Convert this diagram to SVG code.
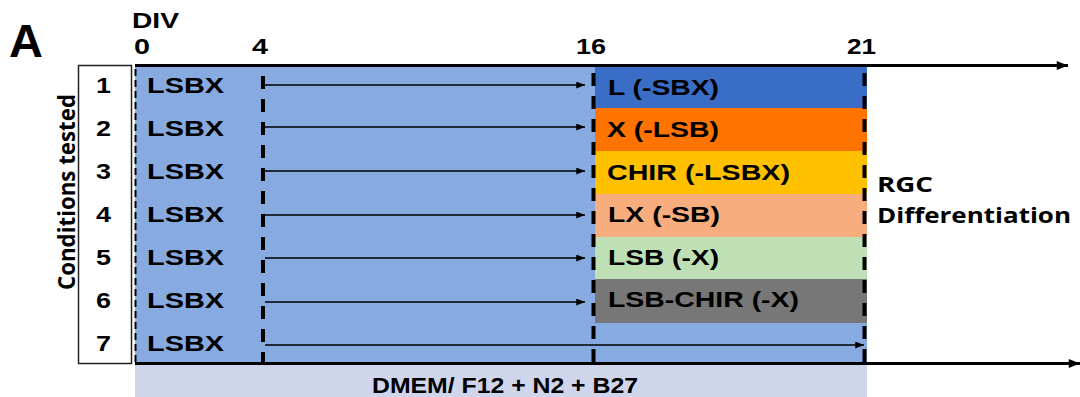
<svg xmlns="http://www.w3.org/2000/svg" width="1080" height="397" viewBox="0 0 1080 397">
<style>
.t{font-family:"Liberation Sans",Arial,sans-serif;font-weight:bold;fill:#000}
.o{font-family:"Open Sans","Liberation Sans",sans-serif;font-weight:bold;fill:#000}
.lab{font-size:22px}
.num{font-size:22px;text-anchor:middle}
.dash{stroke:#000;stroke-width:4;stroke-dasharray:13 10;fill:none}
.arr{stroke:#000;stroke-width:1.5;fill:none;marker-end:url(#ah)}
.axis{stroke:#000;stroke-width:3;fill:none;marker-end:url(#ax)}
</style>
<defs>
<marker id="ah" viewBox="0 0 10 8" refX="10" refY="4" markerWidth="10" markerHeight="7" markerUnits="userSpaceOnUse" orient="auto"><path d="M0,0 L10,4 L0,8 Z" fill="#000"/></marker>
<marker id="ax" viewBox="0 0 10 8" refX="10" refY="4" markerWidth="12" markerHeight="9" markerUnits="userSpaceOnUse" orient="auto"><path d="M0,0 L10,4 L0,8 Z" fill="#000"/></marker>
</defs>
<rect width="1080" height="397" fill="#fff"/>
<g id="background">
<rect x="135" y="66" width="732" height="298" fill="#87AAE0"/>
<rect x="135" y="365" width="732" height="32" fill="#CFD5EA"/>
</g>
<g id="phases">
<rect x="595" y="67" width="272" height="41" fill="#3A6DC6"/>
<rect x="595" y="108" width="272" height="43" fill="#FF7300"/>
<rect x="595" y="151" width="272" height="43" fill="#FFC000"/>
<rect x="595" y="194" width="272" height="43" fill="#F8AD7E"/>
<rect x="595" y="237" width="272" height="42" fill="#BFE0B4"/>
<rect x="595" y="279" width="272" height="44" fill="#777777"/>
<text class="t lab" x="608" y="95" textLength="111" lengthAdjust="spacingAndGlyphs">L (-SBX)</text>
<text class="t lab" x="607" y="137" textLength="112" lengthAdjust="spacingAndGlyphs">X (-LSB)</text>
<text class="t lab" x="607" y="180" textLength="183" lengthAdjust="spacingAndGlyphs">CHIR (-LSBX)</text>
<text class="t lab" x="608" y="222" textLength="112" lengthAdjust="spacingAndGlyphs">LX (-SB)</text>
<text class="t lab" x="608" y="265" textLength="111" lengthAdjust="spacingAndGlyphs">LSB (-X)</text>
<text class="t lab" x="608" y="307" textLength="191" lengthAdjust="spacingAndGlyphs">LSB-CHIR (-X)</text>
</g>
<g id="conditions">
<rect x="78.5" y="65.5" width="53" height="298" fill="#fff" stroke="#222" stroke-width="1.5"/>
<text class="t num" x="103.5" y="93" textLength="15" lengthAdjust="spacingAndGlyphs">1</text>
<text class="t num" x="103.5" y="136" textLength="15" lengthAdjust="spacingAndGlyphs">2</text>
<text class="t num" x="103.5" y="179" textLength="15" lengthAdjust="spacingAndGlyphs">3</text>
<text class="t num" x="103.5" y="222" textLength="15" lengthAdjust="spacingAndGlyphs">4</text>
<text class="t num" x="103.5" y="265" textLength="15" lengthAdjust="spacingAndGlyphs">5</text>
<text class="t num" x="103.5" y="308" textLength="15" lengthAdjust="spacingAndGlyphs">6</text>
<text class="t num" x="103.5" y="351" textLength="15" lengthAdjust="spacingAndGlyphs">7</text>
<text class="o" font-size="23" text-anchor="middle" textLength="196" lengthAdjust="spacingAndGlyphs" transform="translate(75,192) rotate(-90)">Conditions tested</text>
</g>
<g id="lsbx">
<text class="t lab" x="147" y="93" textLength="77" lengthAdjust="spacingAndGlyphs">LSBX</text>
<text class="t lab" x="147" y="136" textLength="77" lengthAdjust="spacingAndGlyphs">LSBX</text>
<text class="t lab" x="147" y="179" textLength="77" lengthAdjust="spacingAndGlyphs">LSBX</text>
<text class="t lab" x="147" y="222" textLength="77" lengthAdjust="spacingAndGlyphs">LSBX</text>
<text class="t lab" x="147" y="265" textLength="77" lengthAdjust="spacingAndGlyphs">LSBX</text>
<text class="t lab" x="147" y="308" textLength="77" lengthAdjust="spacingAndGlyphs">LSBX</text>
<text class="t lab" x="147" y="351" textLength="77" lengthAdjust="spacingAndGlyphs">LSBX</text>
</g>
<g id="connectors">
<line class="axis" x1="135" y1="65.5" x2="1068" y2="65.5"/>
<line class="axis" x1="135" y1="363.5" x2="1080" y2="363.5"/>
<line x1="135.5" y1="69" x2="135.5" y2="362" stroke="#000" stroke-width="2" stroke-dasharray="7 4"/>
<line class="dash" x1="263" y1="76" x2="263" y2="363"/>
<line class="dash" x1="593.5" y1="73" x2="593.5" y2="363"/>
<line class="dash" x1="864.5" y1="73" x2="864.5" y2="363"/>
<line class="arr" x1="265" y1="85" x2="585" y2="85"/>
<line class="arr" x1="265" y1="127" x2="585" y2="127"/>
<line class="arr" x1="265" y1="171" x2="585" y2="171"/>
<line class="arr" x1="265" y1="215" x2="585" y2="215"/>
<line class="arr" x1="265" y1="258" x2="585" y2="258"/>
<line class="arr" x1="265" y1="302" x2="585" y2="302"/>
<line class="arr" x1="265" y1="345" x2="864" y2="345"/>
</g>
<g id="labels">
<text class="t" font-size="47" x="9" y="57">A</text>
<text class="t" font-size="22" x="132" y="28" textLength="47" lengthAdjust="spacingAndGlyphs">DIV</text>
<text class="t" font-size="22" x="134" y="54" textLength="16" lengthAdjust="spacingAndGlyphs">0</text>
<text class="t" font-size="22" x="252" y="54" textLength="16" lengthAdjust="spacingAndGlyphs">4</text>
<text class="t" font-size="22" x="576" y="54" textLength="30" lengthAdjust="spacingAndGlyphs">16</text>
<text class="t" font-size="22" x="847" y="54" textLength="29" lengthAdjust="spacingAndGlyphs">21</text>
<text class="o" font-size="22" x="877" y="192" textLength="56" lengthAdjust="spacingAndGlyphs">RGC</text>
<text class="o" font-size="22" x="877" y="223" textLength="194" lengthAdjust="spacingAndGlyphs">Differentiation</text>
<text class="t" font-size="22" x="372" y="393" textLength="266" lengthAdjust="spacingAndGlyphs">DMEM/ F12 + N2 + B27</text>
</g>
</svg>
